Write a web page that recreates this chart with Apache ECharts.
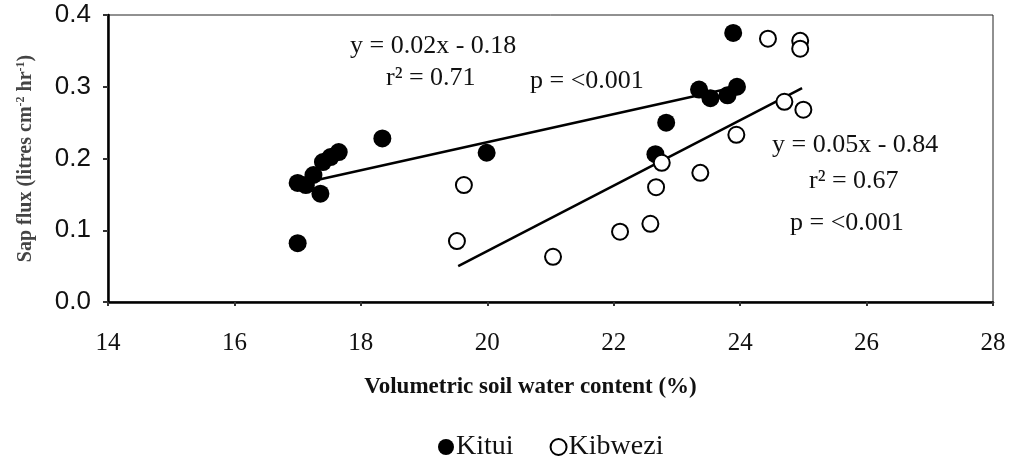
<!DOCTYPE html>
<html>
<head>
<meta charset="utf-8">
<script src="https://cdn.jsdelivr.net/npm/echarts@6/dist/echarts.min.js"></script>
<style>html,body{margin:0;padding:0;background:#fff;}#chart{width:1015px;height:461px;}</style>
</head>
<body>
<div id="chart"></div>
<script>
// Kitui (filled circles)
const kituiX = [17.0, 17.0, 17.13, 17.25, 17.36, 17.4, 17.52, 17.65, 18.34, 19.99, 22.66, 22.83, 23.35, 23.53, 23.8, 23.95, 23.89];
const kituiY = [0.082, 0.166, 0.163, 0.177, 0.151, 0.195, 0.202, 0.209, 0.228, 0.208, 0.206, 0.250, 0.296, 0.284, 0.288, 0.300, 0.375];
// Kibwezi (open circles)
const kibweziX = [19.52, 19.63, 21.04, 22.10, 22.58, 22.67, 22.76, 23.37, 23.94, 24.44, 24.95, 24.95, 24.70, 25.0];
const kibweziY = [0.085, 0.163, 0.063, 0.098, 0.109, 0.160, 0.194, 0.180, 0.233, 0.367, 0.364, 0.353, 0.279, 0.268];
// Regression line endpoints
const kituiFitX = [17.2, 23.95];
const kituiFitY = [0.168, 0.300];
const kibweziFitX = [19.54, 24.98];
const kibweziFitY = [0.050, 0.298];
// Axis ticks
const xTicks = [14, 16, 18, 20, 22, 24, 26, 28];
const yTicks = [0.0, 0.1, 0.2, 0.3, 0.4];

const zip = (a, b) => a.map((v, i) => [v, b[i]]);
const serif = '"Liberation Serif", "Times New Roman", serif';
const sans = '"Liberation Sans", Arial, sans-serif';

const chart = echarts.init(document.getElementById('chart'), null, {renderer: 'canvas'});
const annot = (x, y, t) => ({
  type: 'text', left: x, top: y - 15,
  style: {text: t, font: '26px ' + serif, fill: '#111'}
});
chart.setOption({
  animation: false,
  backgroundColor: '#fff',
  grid: {left: 108, right: 22, top: 15, bottom: 159, show: true, borderColor: '#222', borderWidth: 1},
  xAxis: {
    type: 'value', min: xTicks[0], max: xTicks[xTicks.length - 1], interval: 2,
    splitLine: {show: false},
    axisLine: {lineStyle: {color: '#000', width: 2.5}},
    axisTick: {show: true, length: 4, lineStyle: {color: '#333', width: 2}},
    axisLabel: {fontFamily: serif, fontSize: 25, color: '#111', margin: 29},
    name: 'Volumetric soil water content (%)', nameLocation: 'middle', nameGap: 74,
    nameTextStyle: {fontFamily: serif, fontWeight: 'bold', fontSize: 23, color: '#111', padding: [0, 40, 0, 0]}
  },
  yAxis: {
    type: 'value', min: yTicks[0], max: yTicks[yTicks.length - 1], interval: 0.1,
    splitLine: {show: false},
    axisLine: {lineStyle: {color: '#000', width: 2.5}},
    axisTick: {show: true, length: 5, lineStyle: {color: '#333', width: 2}},
    axisLabel: {fontFamily: sans, fontSize: 26, color: '#111', margin: 17, formatter: v => v.toFixed(1)},
    name: 'Sap flux (litres cm{sup|-2} hr{sup|-1})', nameLocation: 'middle', nameGap: 72,
    nameTextStyle: {fontFamily: serif, fontWeight: 'bold', fontSize: 20, color: '#444',
      rich: {sup: {fontFamily: serif, fontWeight: 'bold', fontSize: 12, color: '#444', padding: [0, 0, 9, 0]}}}
  },
  legend: {
    data: ['Kitui', 'Kibwezi'], left: 433, top: 428, itemWidth: 16, itemHeight: 16, itemGap: 36,
    textStyle: {fontFamily: serif, fontSize: 28, color: '#111', padding: [0, 0, 0, -3]}
  },
  series: [
    {name: 'Kitui fit', type: 'line', data: zip(kituiFitX, kituiFitY), showSymbol: false, symbol: 'none',
     lineStyle: {color: '#000', width: 2.5}, z: 2, silent: true},
    {name: 'Kibwezi fit', type: 'line', data: zip(kibweziFitX, kibweziFitY), showSymbol: false, symbol: 'none',
     lineStyle: {color: '#000', width: 2.5}, z: 2, silent: true},
    {name: 'Kitui', type: 'scatter', data: zip(kituiX, kituiY), symbol: 'circle', symbolSize: 18,
     itemStyle: {color: '#000', opacity: 1}, z: 3},
    {name: 'Kibwezi', type: 'scatter', data: zip(kibweziX, kibweziY), symbol: 'circle', symbolSize: 16,
     itemStyle: {color: '#fff', borderColor: '#000', borderWidth: 2, opacity: 1}, z: 4}
  ],
  graphic: [
    annot(350, 48, 'y = 0.02x - 0.18'),
    annot(386, 80, 'r² = 0.71'),
    annot(530, 83, 'p = <0.001'),
    annot(772, 147, 'y = 0.05x - 0.84'),
    annot(809, 183, 'r² = 0.67'),
    annot(790, 225, 'p = <0.001')
  ]
});
</script>
</body>
</html>
